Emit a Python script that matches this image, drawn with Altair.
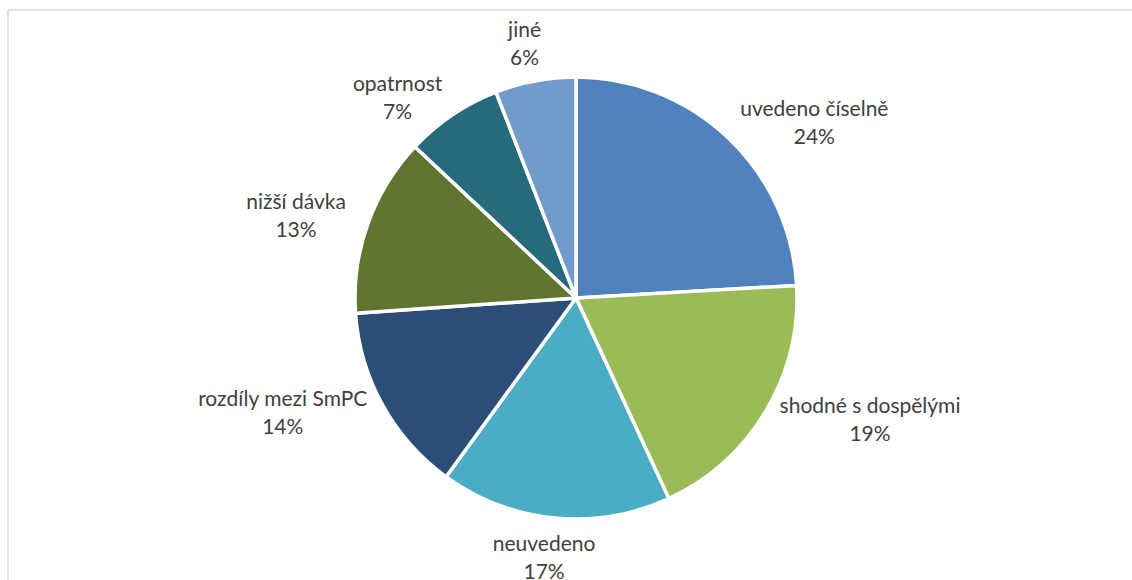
import altair as alt
import pandas as pd

categories = ["uvedeno číselně", "shodné s dospělými", "neuvedeno",
              "rozdíly mezi SmPC", "nižší dávka", "opatrnost", "jiné"]
shares = [24.1, 19.0, 16.9, 13.9, 13.1, 7.1, 5.9]
pct_labels = ["24%", "19%", "17%", "14%", "13%", "7%", "6%"]
colors = ["#4F81BD", "#9BBB59", "#4BACC6", "#2C4D75", "#5F7530", "#276A7C", "#729ACA"]

df = pd.DataFrame({
    "cat": categories,
    "share": shares,
    "pct": pct_labels,
    "order": list(range(len(categories))),
})

W, H = 1132, 580
CX, CY, R = 576, 298, 221
RL = 240      # label anchor radius
CW = 9.8      # approx. char width for label layout
BH = 56       # label block height

base = alt.Chart(df)

pie = base.mark_arc(outerRadius=R, stroke="white", strokeWidth=3.5).encode(
    theta=alt.Theta("share:Q", stack=True),
    color=alt.Color("cat:N", scale=alt.Scale(domain=categories, range=colors), legend=None),
    order=alt.Order("order:Q"),
    x=alt.value(CX),
    y=alt.value(CY),
)

lab = base.transform_joinaggregate(
    total="sum(share)"
).transform_window(
    cum="sum(share)", sort=[alt.SortField("order")], frame=[None, 0]
).transform_calculate(
    th="2*PI*(datum.cum - datum.share/2)/datum.total",
).transform_calculate(
    s="sin(datum.th)", c="cos(datum.th)",
).transform_calculate(
    k="clamp(datum.s/0.5, -1, 1)",
    w=f"length(datum.cat)*{CW}",
).transform_calculate(
    lx=f"{CX} + {RL}*datum.s + datum.k*datum.w/2",
    ly=f"{CY} - {RL}*datum.c - datum.c*(1-abs(datum.k))*{BH/2}",
)

txt_style = dict(font="Lato", fontSize=21, color="#404040", align="center", baseline="middle")

names = lab.mark_text(dy=-14, **txt_style).encode(
    x=alt.X("lx:Q", scale=None, axis=None),
    y=alt.Y("ly:Q", scale=None, axis=None),
    text="cat:N",
)
pcts = lab.mark_text(dy=14, **txt_style).encode(
    x=alt.X("lx:Q", scale=None, axis=None),
    y=alt.Y("ly:Q", scale=None, axis=None),
    text="pct:N",
)

one = alt.Chart(pd.DataFrame({"a": [0]}))
border_left = one.mark_rule(color="#D9D9D9", strokeWidth=1.5).encode(
    x=alt.value(8), y=alt.value(10), y2=alt.value(H)
)
border_top = one.mark_rule(color="#D9D9D9", strokeWidth=1.5).encode(
    x=alt.value(8), x2=alt.value(W), y=alt.value(10)
)

chart = alt.layer(border_left, border_top, pie, names, pcts).properties(
    width=W, height=H, padding=0, autosize=alt.AutoSizeParams(type="none"),
    background="white",
).configure_view(stroke=None)

chart.save("out.html", embed_options={"renderer": "svg", "actions": False})
